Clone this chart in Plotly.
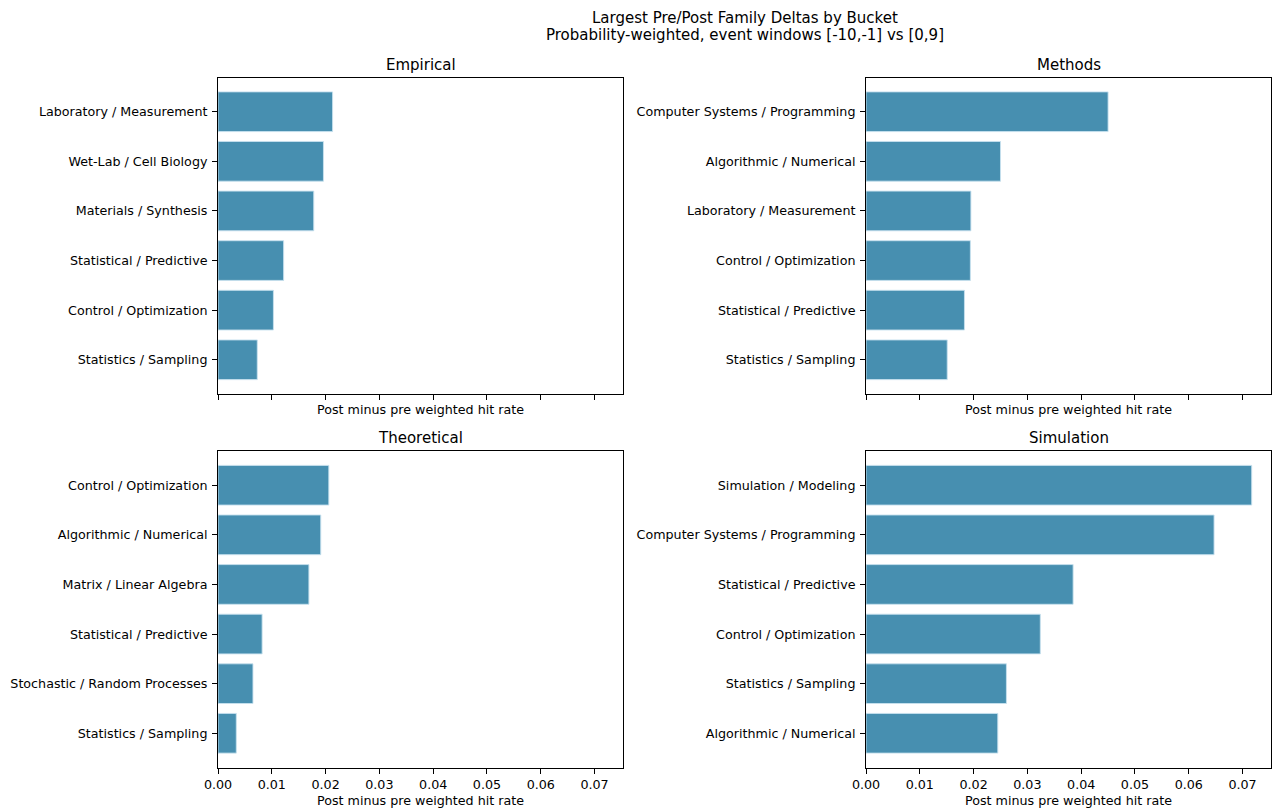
import plotly.graph_objects as go

# Bucket panels: family labels and post-minus-pre weighted hit rate deltas
empirical_labels = ["Laboratory / Measurement", "Wet-Lab / Cell Biology", "Materials / Synthesis",
                    "Statistical / Predictive", "Control / Optimization", "Statistics / Sampling"]
empirical_values = [0.0213, 0.0196, 0.0178, 0.0122, 0.0103, 0.0073]

methods_labels = ["Computer Systems / Programming", "Algorithmic / Numerical", "Laboratory / Measurement",
                  "Control / Optimization", "Statistical / Predictive", "Statistics / Sampling"]
methods_values = [0.0450, 0.0250, 0.0195, 0.0194, 0.0183, 0.0151]

theoretical_labels = ["Control / Optimization", "Algorithmic / Numerical", "Matrix / Linear Algebra",
                      "Statistical / Predictive", "Stochastic / Random Processes", "Statistics / Sampling"]
theoretical_values = [0.0206, 0.0191, 0.0169, 0.0082, 0.0065, 0.0034]

simulation_labels = ["Simulation / Modeling", "Computer Systems / Programming", "Statistical / Predictive",
                     "Control / Optimization", "Statistics / Sampling", "Algorithmic / Numerical"]
simulation_values = [0.0717, 0.0647, 0.0385, 0.0324, 0.0261, 0.0245]

panel_titles = ["Empirical", "Methods", "Theoretical", "Simulation"]
x_tick_values = [0.00, 0.01, 0.02, 0.03, 0.04, 0.05, 0.06, 0.07]
x_axis_title = "Post minus pre weighted hit rate"
fig_title = "Largest Pre/Post Family Deltas by Bucket"
fig_subtitle = "Probability-weighted, event windows [-10,-1] vs [0,9]"

BAR_COLOR = "rgb(71,143,176)"
EDGE_COLOR = "rgba(200,225,238,0.9)"
FONT = "DejaVu Sans, Arial, sans-serif"
TICK_SIZE = 12.7
W, H = 1276, 808

panels = [
    (empirical_labels, empirical_values),
    (methods_labels, methods_values),
    (theoretical_labels, theoretical_values),
    (simulation_labels, simulation_values),
]

# Pixel boxes of each panel (left, right, top, bottom)
col_px = [(218, 623), (866, 1271)]
row_px = [(77.5, 394), (451, 767.5)]

x_max = max(max(v) for _, v in panels) * 1.05

fig = go.Figure()
layout = dict(
    width=W, height=H,
    template="none",
    margin=dict(l=0, r=0, t=0, b=0, autoexpand=False),
    paper_bgcolor="white", plot_bgcolor="white",
    showlegend=False,
    font=dict(family=FONT, size=13, color="black"),
    annotations=[],
)

for i, (labels, values) in enumerate(panels):
    r, c = divmod(i, 2)
    suffix = "" if i == 0 else str(i + 1)
    xa, ya = "x" + suffix, "y" + suffix
    fig.add_trace(go.Bar(
        x=values, y=labels, orientation="h", width=0.8,
        marker=dict(color=BAR_COLOR, line=dict(color=EDGE_COLOR, width=1)),
        xaxis=xa, yaxis=ya, hoverinfo="x+y",
    ))
    l, rr = col_px[c]
    t, b = row_px[r]
    xdom = [l / W, rr / W]
    ydom = [1 - b / H, 1 - t / H]
    n = len(labels)
    pad = (n - 1 + 0.8) * 0.05
    layout["xaxis" + suffix] = dict(
        domain=xdom, anchor=ya, range=[0, x_max], automargin=False,
        tickvals=x_tick_values, tickformat=".2f",
        showticklabels=(r == 1),
        ticks="outside", ticklen=5, tickwidth=1, tickcolor="black",
        showline=True, mirror=True, linecolor="black", linewidth=1,
        showgrid=False, zeroline=False,
        tickfont=dict(size=TICK_SIZE, color="black"),
    )
    layout["yaxis" + suffix] = dict(
        domain=ydom, anchor=xa, automargin=False,
        type="category", categoryorder="array", categoryarray=labels,
        range=[n - 1 + 0.4 + pad, -0.4 - pad],
        ticks="outside", ticklen=5, tickwidth=1, tickcolor="black",
        showline=True, mirror=True, linecolor="black", linewidth=1,
        showgrid=False, zeroline=False,
        tickfont=dict(size=TICK_SIZE, color="black"),
        ticklabelstandoff=2,
    )
    cx = (l + rr) / 2 / W
    # panel title
    layout["annotations"].append(dict(
        text=panel_titles[i], x=cx, y=1 - (t - 13) / H, xref="paper", yref="paper",
        xanchor="center", yanchor="middle", showarrow=False,
        font=dict(size=15, color="black", family=FONT),
    ))
    # x-axis title
    ytitle = b + (15 if r == 0 else 33)
    layout["annotations"].append(dict(
        text=x_axis_title, x=cx, y=1 - ytitle / H, xref="paper", yref="paper",
        xanchor="center", yanchor="middle", showarrow=False,
        font=dict(size=TICK_SIZE, color="black", family=FONT),
    ))

# figure title, two lines
title_cx = 0.5 * (218 + 1271) / W
for text, ypx in ((fig_title, 18), (fig_subtitle, 35)):
    layout["annotations"].append(dict(
        text=text, x=title_cx, y=1 - ypx / H, xref="paper", yref="paper",
        xanchor="center", yanchor="middle", showarrow=False,
        font=dict(size=15, color="black", family=FONT),
    ))

fig.update_layout(**layout)
fig.write_html("out.html")
